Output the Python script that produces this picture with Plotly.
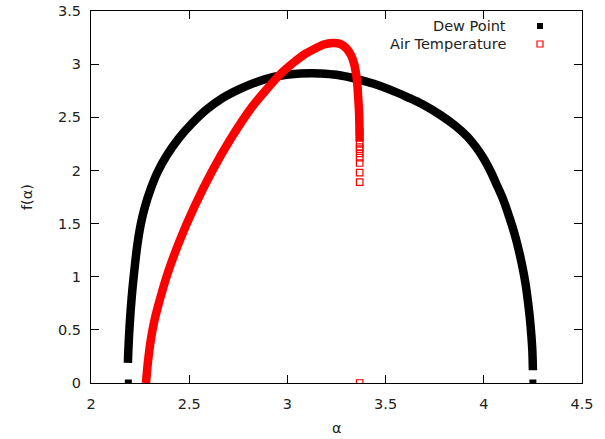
import plotly.graph_objects as go

# Dew Point f(alpha) spectrum
dew_alpha = [2.188, 2.19, 2.197, 2.207, 2.219, 2.236, 2.254, 2.275, 2.303, 2.338, 2.387, 2.446,
             2.513, 2.587, 2.669, 2.756, 2.848, 2.93, 3.02, 3.115, 3.166, 3.25, 3.354, 3.44, 3.522,
             3.61, 3.69, 3.78, 3.855, 3.915, 3.96, 4.00, 4.035, 4.062, 4.10, 4.13, 4.157, 4.178,
             4.196, 4.212, 4.224, 4.234, 4.242, 4.247, 4.25]
dew_f = [0.19, 0.30, 0.55, 0.80, 1.03, 1.30, 1.50, 1.66, 1.82, 1.98, 2.145, 2.30,
         2.44, 2.57, 2.68, 2.765, 2.835, 2.88, 2.905, 2.915, 2.913, 2.90, 2.86, 2.815, 2.76,
         2.69, 2.62, 2.52, 2.42, 2.32, 2.22, 2.11, 1.99, 1.88, 1.72, 1.56, 1.40, 1.25,
         1.10, 0.94, 0.78, 0.62, 0.45, 0.31, 0.12]
dew_zero_alpha = [2.19, 4.25]
dew_zero_f = [0.0, 0.0]

# Air Temperature f(alpha) spectrum
air_alpha = [2.28, 2.29, 2.304, 2.321, 2.341, 2.39, 2.454, 2.527, 2.613, 2.709, 2.821, 2.893,
             2.966, 3.035, 3.085, 3.135, 3.185, 3.23, 3.27, 3.30, 3.325, 3.34, 3.354, 3.36,
             3.365, 3.367, 3.368]
air_f = [0.0, 0.2, 0.40, 0.57, 0.72, 1.03, 1.35, 1.66, 1.98, 2.29, 2.60, 2.76,
         2.91, 3.02, 3.09, 3.14, 3.185, 3.20, 3.19, 3.15, 3.08, 3.00, 2.85, 2.70,
         2.54, 2.38, 2.27]
air_tail_alpha = [3.368, 3.368, 3.368, 3.368, 3.368, 3.368, 3.368, 3.368, 3.368, 3.368]
air_tail_f = [2.36, 2.25, 2.22, 2.20, 2.16, 2.12, 2.07, 1.98, 1.89, 0.0]

x_ticks = [2, 2.5, 3, 3.5, 4, 4.5]
x_tick_labels = ["2", "2.5", "3", "3.5", "4", "4.5"]
y_ticks = [0, 0.5, 1, 1.5, 2, 2.5, 3, 3.5]
y_tick_labels = ["0", "0.5", "1", "1.5", "2", "2.5", "3", "3.5"]

FONT = "DejaVu Sans"
FS = 14.5
BLACK = "#000000"
RED = "#ff0000"
TXT = "#222222"

fig = go.Figure()
fig.add_trace(go.Scatter(x=dew_alpha, y=dew_f, mode="lines",
                         line=dict(color=BLACK, width=8.5, shape="spline", smoothing=1),
                         showlegend=False, hoverinfo="skip"))
fig.add_trace(go.Scatter(x=dew_zero_alpha, y=dew_zero_f, mode="markers",
                         marker=dict(symbol="square", size=7, color=BLACK), showlegend=False))
fig.add_trace(go.Scatter(x=air_alpha, y=air_f, mode="lines",
                         line=dict(color=RED, width=8.5, shape="spline", smoothing=0.9),
                         showlegend=False, hoverinfo="skip"))
fig.add_trace(go.Scatter(x=air_tail_alpha, y=air_tail_f, mode="markers",
                         marker=dict(symbol="square-open", size=6.5, color=RED,
                                     line=dict(width=1.2, color=RED)),
                         showlegend=False))

# gnuplot-style legend (text then symbol)
L, R, T, B = 91, 23, 11, 56
W, H = 605 - L - R, 439 - T - B
def px(xp):
    return (xp - L) / W
def py(yp):
    return (439 - B - yp) / H

legend_names = ["Dew Point", "Air Temperature"]
legend_y = [26, 44]
for name, yy in zip(legend_names, legend_y):
    fig.add_annotation(x=px(508), y=py(yy), xref="paper", yref="paper", text=name,
                       showarrow=False, xanchor="right", yanchor="middle",
                       font=dict(family=FONT, size=FS, color=TXT))
fig.add_shape(type="rect", xref="paper", yref="paper",
              x0=px(537), x1=px(543), y0=py(29), y1=py(23),
              fillcolor=BLACK, line=dict(width=0))
fig.add_shape(type="rect", xref="paper", yref="paper",
              x0=px(537), x1=px(543), y0=py(47), y1=py(41),
              fillcolor="rgba(0,0,0,0)", line=dict(width=1.2, color=RED))

fig.add_annotation(x=px(27), y=0.5, xref="paper", yref="paper", text="f(α)", textangle=-90,
                   showarrow=False, xanchor="center", yanchor="middle",
                   font=dict(family=FONT, size=FS, color=TXT))
fig.add_annotation(x=0.5, y=py(428), xref="paper", yref="paper", text="α",
                   showarrow=False, xanchor="center", yanchor="middle",
                   font=dict(family=FONT, size=FS, color=TXT))

axis_common = dict(showgrid=False, zeroline=False, showline=True, linecolor=BLACK, linewidth=1,
                   mirror="ticks", ticks="inside", ticklen=8, tickwidth=1, tickcolor=BLACK,
                   automargin=False,
                   tickfont=dict(family=FONT, size=FS, color=TXT))
fig.update_xaxes(range=[2, 4.5], tickvals=x_ticks, ticktext=x_tick_labels,
                 ticklabelstandoff=8, **axis_common)
fig.update_yaxes(range=[0, 3.5], tickvals=y_ticks, ticktext=y_tick_labels,
                 ticklabelstandoff=6, **axis_common)

fig.update_layout(width=605, height=439, margin=dict(l=L, r=R, t=T, b=B, autoexpand=False),
                  plot_bgcolor="white", paper_bgcolor="white", showlegend=False,
                  font=dict(family=FONT, size=FS))
fig.write_html("out.html", config={"displayModeBar": False},
               post_script="document.body.style.margin='0px';document.body.style.overflow='hidden';")
